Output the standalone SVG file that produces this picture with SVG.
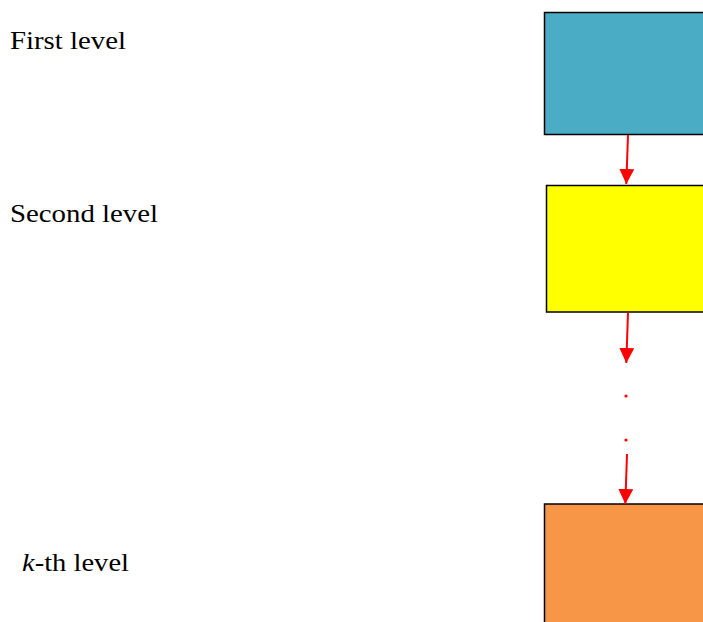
<svg xmlns="http://www.w3.org/2000/svg" width="703" height="622" viewBox="0 0 703 622">
<style>
.lbl{font-family:"Liberation Serif","DejaVu Serif",serif;font-size:26px;fill:#000}
.box{stroke:#000;stroke-width:1.5}
.conn{stroke:#ff0000;stroke-width:2;fill:none}
.dot{fill:#ff0000}
</style>
<defs>
<marker id="ah" markerWidth="15" markerHeight="15" viewBox="0 0 15 15" refX="15" refY="7.5" orient="auto" markerUnits="userSpaceOnUse">
<path d="M0,0 L15,7.5 L0,15 Z" fill="#ff0000"/>
</marker>
</defs>
<rect width="703" height="622" fill="#fff"/>
<g id="label-first"><text class="lbl" x="10" y="49" textLength="116" lengthAdjust="spacingAndGlyphs">First level</text></g>
<g id="label-second"><text class="lbl" x="10" y="222" textLength="148" lengthAdjust="spacingAndGlyphs">Second level</text></g>
<g id="label-kth"><text class="lbl" x="22" y="571" textLength="107" lengthAdjust="spacingAndGlyphs"><tspan font-style="italic">k</tspan>-th level</text></g>
<g id="node-first"><rect class="box" x="544.5" y="12.5" width="170" height="122" fill="#4bacc6"/></g>
<g id="node-second"><rect class="box" x="546.5" y="185.5" width="170" height="126.5" fill="#ffff00"/></g>
<g id="node-kth"><rect class="box" x="544.5" y="504" width="170" height="130" fill="#f79646"/></g>
<g id="connectors">
<line class="conn" x1="628" y1="135" x2="626.3" y2="184" marker-end="url(#ah)"/>
<line class="conn" x1="628" y1="312.5" x2="626.3" y2="363" marker-end="url(#ah)"/>
<circle class="dot" cx="626" cy="396" r="1.6"/>
<circle class="dot" cx="626" cy="440" r="1.6"/>
<line class="conn" x1="627" y1="454" x2="625.3" y2="504" marker-end="url(#ah)"/>
</g>
</svg>
